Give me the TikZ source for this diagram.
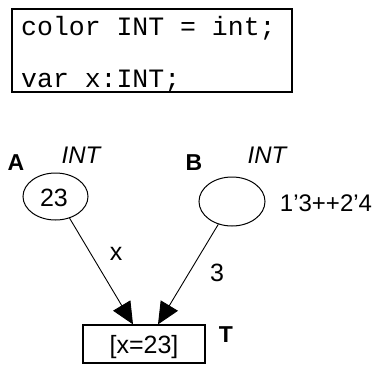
\documentclass[tikz,border=0pt]{standalone}
\usepackage{fontspec}
\setmainfont{Liberation Sans}
\newfontfamily\codefont{Liberation Mono}
\usetikzlibrary{shapes.geometric,arrows.meta}
\begin{document}
\begin{tikzpicture}[x=1pt,y=-1pt,
  place/.style={draw,line width=1pt,ellipse,inner sep=0pt},
  trans/.style={draw,line width=1.2pt,rectangle,inner sep=0pt,
    minimum width=122pt,minimum height=38pt},
  lbl/.style={font=\fontsize{25}{25}\selectfont,inner sep=0pt},
  namelbl/.style={font=\fontsize{23}{23}\selectfont\bfseries,inner sep=0pt},
  typelbl/.style={font=\fontsize{24}{24}\selectfont\itshape,inner sep=0pt},
  code/.style={font=\fontsize{26.5}{26.5}\selectfont\codefont,inner sep=0pt,anchor=base west},
  arc/.style={line width=0.9pt,-{Triangle[length=22pt,width=20pt]}}]
\useasboundingbox (0,0) rectangle (375,365);

% declarations box
\draw[line width=1.6pt] (12,9) rectangle (292,92);
\node[code] (decl1) at (21,35) {color INT = int;};
\node[code] (decl2) at (21,87) {var x:INT;};

% places
\node[place,minimum width=65pt,minimum height=47pt] (A) at (55.5,196.5) {};
\node[lbl] (Am) at (54,198) {23};
\node[namelbl] (An) at (16,163) {A};
\node[typelbl] (At) at (81,155) {INT};

\node[place,minimum width=66pt,minimum height=49pt] (B) at (232,201.5) {};
\node[namelbl] (Bn) at (194,163) {B};
\node[typelbl] (Bt) at (267,155) {INT};
\node[lbl,font=\fontsize{24}{24}\selectfont] (Bm) at (326,203) {1'3++2'4};

% transition
\node[trans] (T) at (144,344) {};
\node[lbl] (Tg) at (144,347) {[x=23]};
\node[namelbl] (Tn) at (226,335) {T};

% arcs
\draw[arc] (A.-57) -- ([xshift=-11pt]T.north);
\draw[arc] (B.-121) -- ([xshift=14pt]T.north);
\node[lbl] (ax) at (116,254) {x};
\node[lbl] (bx) at (217,273) {3};
\end{tikzpicture}
\end{document}
